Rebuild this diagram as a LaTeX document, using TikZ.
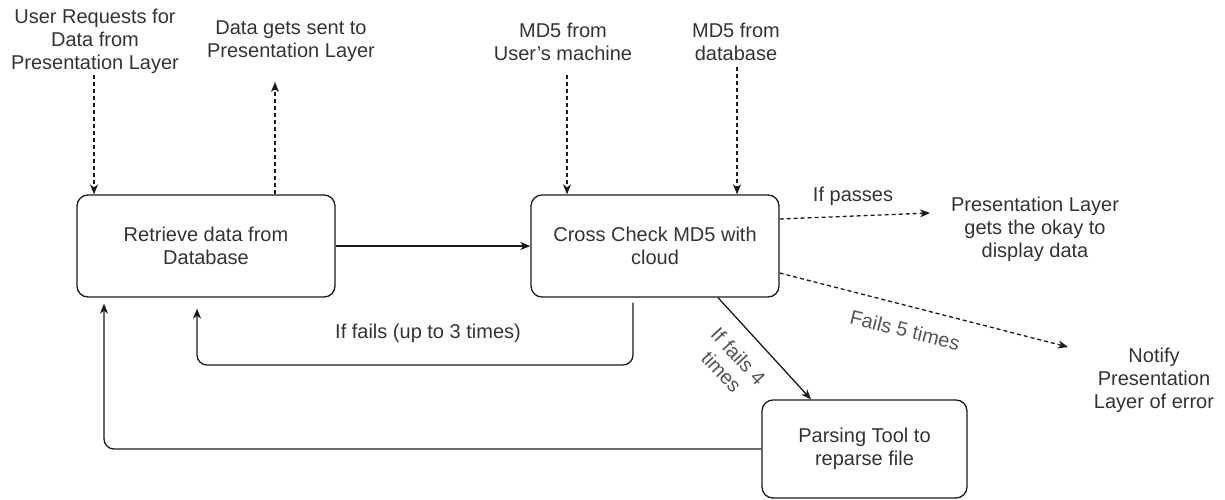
\documentclass[tikz,border=0pt]{standalone}
\usepackage{fontspec}
\setmainfont{Liberation Sans}
\usetikzlibrary{arrows.meta,calc}
\definecolor{txt}{HTML}{333333}
\definecolor{lighttxt}{HTML}{555555}
\definecolor{ln}{HTML}{1A1A1A}
\begin{document}
\begin{tikzpicture}[x=1pt,y=-1pt,
  box/.style={draw=ln, line width=1.3pt, rounded corners=11pt, align=center,
    font=\fontsize{20}{23}\selectfont, text=txt, inner sep=0pt},
  lbl/.style={align=center, font=\fontsize{20}{23}\selectfont, text=txt, inner sep=1pt},
  lbl2/.style={lbl, text=lighttxt},
  sarr/.style={draw=ln, line width=1.3pt, -{Stealth[length=10pt,width=8pt,inset=3pt]}},
  darr/.style={sarr, dash pattern=on 4pt off 3pt}]
\useasboundingbox (0,0) rectangle (1225,500);
% boxes
\node[box, minimum width=258pt, minimum height=102pt] (b1) at (206,246) {Retrieve data from\\Database};
\node[box, minimum width=248pt, minimum height=102pt] (b2) at (655,246) {Cross Check MD5 with\\cloud};
\node[box, minimum width=205pt, minimum height=98pt] (b3) at (864.5,449) {Parsing Tool to\\reparse file};
% outside texts
\node[lbl] (ureq) at (95,41) {User Requests for\\Data from\\Presentation Layer};
\node[lbl] (dsent) at (291,41.5) {Data gets sent to\\Presentation Layer};
\node[lbl] (md5u) at (563,41.5) {MD5 from\\User's machine};
\node[lbl] (md5d) at (736,41.5) {MD5 from\\database};
\node[lbl] (okay) at (1035,229) {Presentation Layer\\gets the okay to\\display data};
\node[lbl] (notify) at (1154,380) {Notify\\Presentation\\Layer of error};
% edge labels
\node[lbl] (lpass) at (853,196) {If passes};
\node[lbl2, rotate=-14] (lf5) at (905,330) {Fails 5 times};
\node[lbl] (lf3) at (428,333) {If fails (up to 3 times)};
\node[lbl2, rotate=-47] (lf4) at (730,364) {If fails 4\\times};
% coordinates for free ends / bends
\coordinate (ureqEnd) at (94,75);
\coordinate (dsTop) at (275,82);
\coordinate (mu) at (567,75);
\coordinate (md) at (737,67);
\coordinate (pa) at (930,213);
\coordinate (f5) at (1068,347);
\coordinate (da) at (718,297);
\coordinate (db) at (811,400);
\coordinate (fa) at (633,365);
\coordinate (fb) at (197,365);
\coordinate (ga) at (104,449);
% connectors
\draw[darr] (ureqEnd) -- (ureqEnd |- b1.north);
\draw[darr] (dsTop |- b1.north) -- (dsTop);
\draw[darr] (mu) -- (mu |- b2.north);
\draw[darr] (md) -- (md |- b2.north);
\draw[sarr] (b1.east) -- (b2.west);
\draw[darr] ([yshift=27pt]b2.east) -- (pa);
\draw[darr] ([yshift=-27pt]b2.east) -- (f5);
\draw[sarr] (da |- b2.south) -- (db |- b3.north);
\draw[sarr, rounded corners=10pt, shorten >=11pt] ([yshift=-5pt]fa |- b2.south) -- (fa) -- (fb) -- (fb |- b1.south);
\draw[sarr, rounded corners=10pt, shorten >=6pt] (b3.west) -- (ga) -- (ga |- b1.south);
\end{tikzpicture}
\end{document}
